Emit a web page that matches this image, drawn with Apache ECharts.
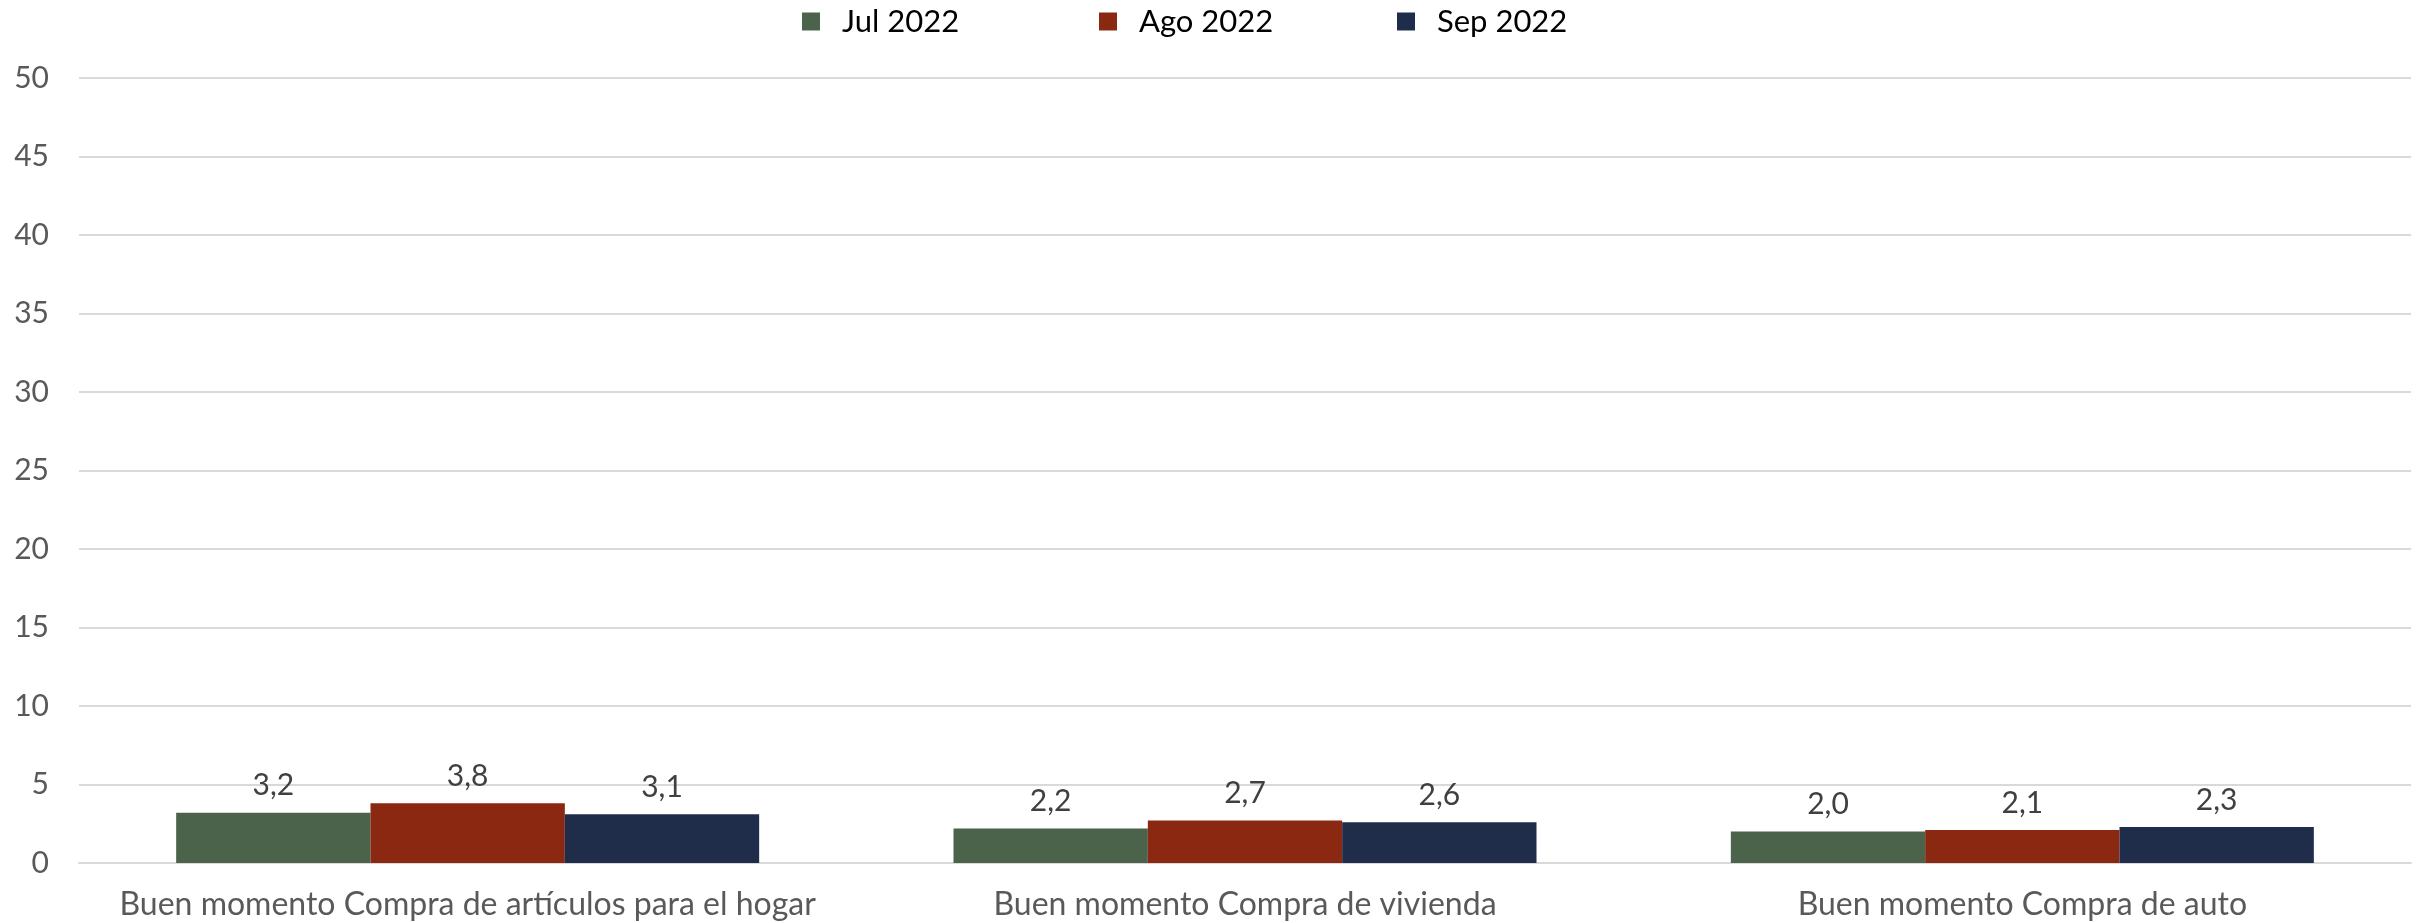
<!DOCTYPE html>
<html>
<head>
<meta charset="utf-8">
<script src="https://cdn.jsdelivr.net/npm/echarts@6/dist/echarts.min.js"></script>
<style>
html,body{margin:0;padding:0;background:#fff;}
#chart{width:2425px;height:923px;}
</style>
</head>
<body>
<div id="chart"></div>
<script>
const categories = ["Buen momento Compra de artículos para el hogar", "Buen momento Compra de vivienda", "Buen momento Compra de auto"];
const seriesNames = ["Jul 2022", "Ago 2022", "Sep 2022"];
const jul2022 = [3.2, 2.2, 2.0];
const ago2022 = [3.8, 2.7, 2.1];
const sep2022 = [3.1, 2.6, 2.3];
const colors = ["#4B634B", "#8B2812", "#1F2D4B"];
const legendLefts = [802, 1099, 1397];

const FONT = "Lato";
const chart = echarts.init(document.getElementById('chart'), null, {renderer: 'canvas'});

const values = [jul2022, ago2022, sep2022];
const series = seriesNames.map((name, i) => ({
  name: name,
  type: 'bar',
  data: values[i],
  barGap: '0%',
  barCategoryGap: '25%',
  itemStyle: {color: colors[i]},
  label: {
    show: true,
    position: 'top',
    distance: 12,
    color: '#404040',
    fontFamily: FONT,
    fontSize: 30,
    formatter: p => p.value.toFixed(1).replace('.', ',')
  }
}));

const legends = seriesNames.map((name, i) => ({
  data: [name],
  left: legendLefts[i],
  top: 6,
  itemWidth: 18,
  itemHeight: 18,
  icon: 'rect',
  itemGap: 0,
  textStyle: {fontFamily: FONT, fontSize: 31, color: '#000', padding: [0, 0, 0, 17]},
  padding: 0
}));

chart.setOption({
  animation: false,
  color: colors,
  legend: legends,
  grid: {left: 79, right: 14, top: 78, bottom: 60, containLabel: false},
  xAxis: {
    type: 'category',
    data: categories,
    axisTick: {show: false},
    axisLine: {show: true, lineStyle: {color: '#d9d9d9', width: 2}},
    axisLabel: {interval: 0, fontFamily: FONT, fontSize: 32, color: '#595959', margin: 26}
  },
  yAxis: {
    type: 'value',
    min: 0,
    max: 50,
    interval: 5,
    axisLine: {show: false},
    axisTick: {show: false},
    splitLine: {lineStyle: {color: '#d9d9d9', width: 2}},
    axisLabel: {fontFamily: FONT, fontSize: 30, color: '#595959', margin: 30}
  },
  series: series
});
</script>
</body>
</html>
